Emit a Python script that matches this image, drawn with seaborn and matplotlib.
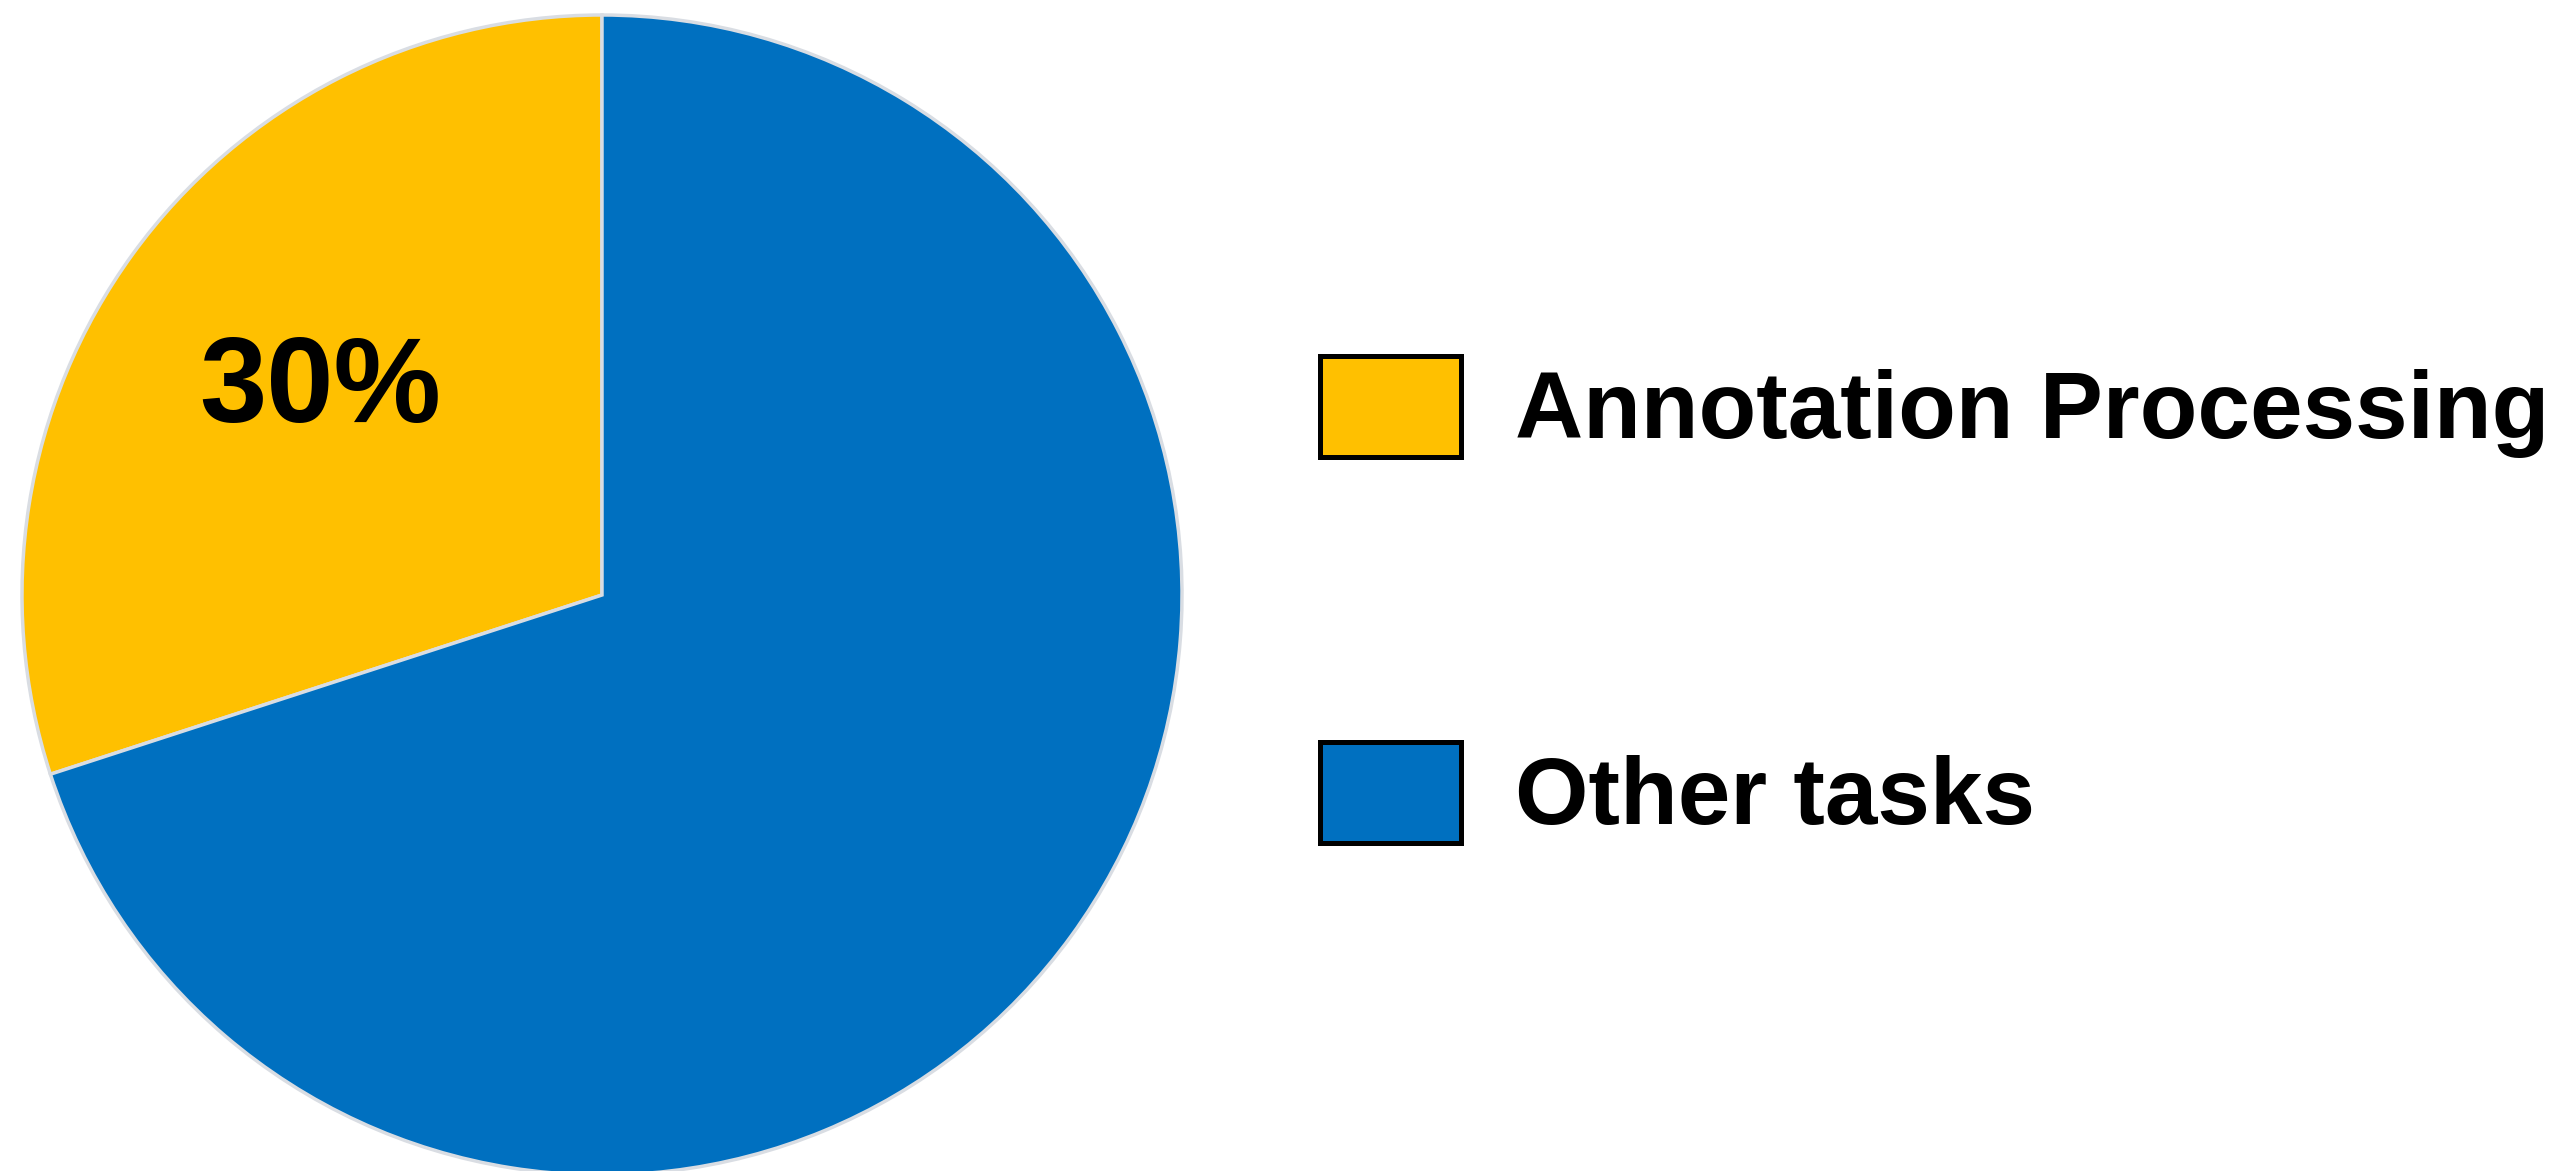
import numpy as np
import matplotlib
matplotlib.use('Agg')
import matplotlib.pyplot as plt
import matplotlib.patches as mpatches
import seaborn as sns

#### DATA

labels = ['Annotation Processing', 'Other tasks']
shares = [30, 70]
colors = ['#FFC000', '#0070C0']

#### PLOT

sns.set_style("white")
plt.rcParams['font.family'] = ['Liberation Sans', 'DejaVu Sans']
plt.rcParams['font.weight'] = 'bold'
plt.rcParams['text.color'] = 'black'

fg = plt.figure(figsize=(25.7, 11.71), dpi=100)

# pie axes: square in pixels, centre ~ (602, 595), radius ~580 px
ax = fg.add_axes([22/2570, (576-580)/1171, 1160/2570, 1160/1171])

wedges, texts, autotexts = ax.pie(shares, colors=colors, startangle=90, counterclock=True,
	autopct=lambda p: f'{p:.0f}%' if p < 50 else '', pctdistance=0.6,
	wedgeprops=dict(edgecolor='#d9dde3', linewidth=2.5))

for t in autotexts:
	t.set_fontsize(87)
	t.set_fontweight('bold')
	t.set_color('black')

ax.set_xlim(-1, 1)
ax.set_ylim(-1, 1)
ax.set_aspect('auto')
ax.axis('off')

handles = [mpatches.Patch(facecolor=c, edgecolor='black', linewidth=3.6) for c in colors]
leg = fg.legend(handles, labels, loc='center left', bbox_to_anchor=(1320/2570, (1171-600)/1171),
	frameon=False, prop=dict(family='Liberation Sans', weight='bold', size=68),
	handlelength=1.49, handleheight=1.27, handletextpad=0.58, labelspacing=3.0,
	borderpad=0, borderaxespad=0)
for t in leg.get_texts():
	t.set_color('black')

plt.savefig('out.png', dpi=100)
